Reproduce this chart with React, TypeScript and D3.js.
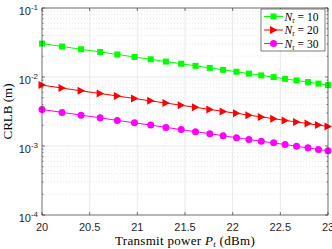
import React, { useEffect, useRef } from 'react';
import * as d3 from 'd3';

// transmit power samples (dBm), 100 mW .. 200 mW in 5 mW steps
const powerDbm = [20, 20.21, 20.41, 20.61, 20.79, 20.97, 21.14, 21.3, 21.46, 21.61, 21.76, 21.9, 22.04, 22.17, 22.3, 22.43, 22.55, 22.67, 22.79, 22.9, 23.0];

const crlbN10 = [0.0305, 0.02766, 0.02521, 0.02306, 0.02118, 0.01952, 0.01805, 0.01674, 0.01556, 0.01451, 0.01356, 0.01269, 0.01191, 0.0112, 0.01055, 0.00996, 0.00941, 0.00891, 0.00845, 0.00802, 0.00763];
const crlbN20 = [0.00763, 0.00692, 0.0063, 0.00577, 0.0053, 0.00488, 0.00451, 0.00419, 0.00389, 0.00363, 0.00339, 0.00317, 0.00298, 0.0028, 0.00264, 0.00249, 0.00235, 0.00223, 0.00211, 0.00201, 0.00191];
const crlbN30 = [0.00339, 0.00307, 0.0028, 0.00256, 0.00235, 0.00217, 0.00201, 0.00186, 0.00173, 0.00161, 0.00151, 0.00141, 0.00132, 0.00124, 0.00117, 0.00111, 0.00105, 0.00099, 0.00094, 0.00089, 0.00085];

const xTicks = [20, 20.5, 21, 21.5, 22, 22.5, 23];
const yExponents = [-4, -3, -2, -1];

const series = [
  { n: '10', values: crlbN10, color: '#00ff00', marker: 'square' },
  { n: '20', values: crlbN20, color: '#ff0000', marker: 'triangle' },
  { n: '30', values: crlbN30, color: '#ff00ff', marker: 'circle' },
];

const W = 332;
const H = 249;
const margin = { top: 8, right: 4, bottom: 34, left: 42 };

function drawMarker(g: any, type: string, x: number, y: number, color: string) {
  if (type === 'square') {
    g.append('rect').attr('x', x - 3).attr('y', y - 3).attr('width', 6).attr('height', 6).attr('fill', color);
  } else if (type === 'triangle') {
    g.append('path').attr('d', `M${x - 3.5},${y - 4}L${x + 4},${y}L${x - 3.5},${y + 4}Z`).attr('fill', color);
  } else {
    g.append('circle').attr('cx', x).attr('cy', y).attr('r', 3.5).attr('fill', color);
  }
}

export default function App() {
  const svgRef = useRef<SVGSVGElement>(null);

  useEffect(() => {
    const svg = d3.select(svgRef.current);
    svg.selectAll('*').remove();

    const iw = W - margin.left - margin.right;
    const ih = H - margin.top - margin.bottom;

    const x = d3.scaleLinear().domain([20, 23]).range([0, iw]);
    const y = d3.scaleLog().domain([1e-4, 1e-1]).range([ih, 0]);

    const g = svg.append('g').attr('transform', `translate(${margin.left},${margin.top})`);

    g.append('rect').attr('width', iw).attr('height', ih).attr('fill', '#fff');

    // minor horizontal grid (dotted)
    const minor: number[] = [];
    yExponents.slice(0, 3).forEach((e) => {
      for (let k = 2; k <= 9; k++) minor.push(k * Math.pow(10, e));
    });
    g.selectAll('line.minor')
      .data(minor)
      .join('line')
      .attr('x1', 0).attr('x2', iw)
      .attr('y1', (d) => y(d)).attr('y2', (d) => y(d))
      .attr('stroke', '#d8d8d8').attr('stroke-width', 0.6).attr('stroke-dasharray', '1,2');

    // major grid
    g.selectAll('line.gx')
      .data(xTicks)
      .join('line')
      .attr('x1', (d) => x(d)).attr('x2', (d) => x(d))
      .attr('y1', 0).attr('y2', ih)
      .attr('stroke', '#e3e3e3').attr('stroke-width', 0.8);
    g.selectAll('line.gy')
      .data(yExponents)
      .join('line')
      .attr('x1', 0).attr('x2', iw)
      .attr('y1', (d) => y(Math.pow(10, d))).attr('y2', (d) => y(Math.pow(10, d)))
      .attr('stroke', '#e3e3e3').attr('stroke-width', 0.8);

    // ticks (inward, both sides)
    const axisColor = '#262626';
    xTicks.forEach((t) => {
      g.append('line').attr('x1', x(t)).attr('x2', x(t)).attr('y1', ih).attr('y2', ih - 3).attr('stroke', axisColor).attr('stroke-width', 0.6);
      g.append('line').attr('x1', x(t)).attr('x2', x(t)).attr('y1', 0).attr('y2', 3).attr('stroke', axisColor).attr('stroke-width', 0.6);
    });
    yExponents.forEach((e) => {
      const yy = y(Math.pow(10, e));
      g.append('line').attr('x1', 0).attr('x2', 3).attr('y1', yy).attr('y2', yy).attr('stroke', axisColor).attr('stroke-width', 0.6);
      g.append('line').attr('x1', iw).attr('x2', iw - 3).attr('y1', yy).attr('y2', yy).attr('stroke', axisColor).attr('stroke-width', 0.6);
    });
    minor.forEach((m) => {
      const yy = y(m);
      g.append('line').attr('x1', 0).attr('x2', 1.6).attr('y1', yy).attr('y2', yy).attr('stroke', axisColor).attr('stroke-width', 0.5);
      g.append('line').attr('x1', iw).attr('x2', iw - 1.6).attr('y1', yy).attr('y2', yy).attr('stroke', axisColor).attr('stroke-width', 0.5);
    });

    // series
    const line = d3.line<number>()
      .x((_, i) => x(powerDbm[i]))
      .y((d) => y(d));
    series.forEach((s) => {
      g.append('path').datum(s.values).attr('d', line).attr('fill', 'none').attr('stroke', s.color).attr('stroke-width', 1);
      const mg = g.append('g');
      s.values.forEach((v, i) => drawMarker(mg, s.marker, x(powerDbm[i]), y(v), s.color));
    });

    // frame
    g.append('rect').attr('width', iw).attr('height', ih).attr('fill', 'none').attr('stroke', axisColor).attr('stroke-width', 0.6);

    // tick labels
    const sans = 'Liberation Sans, Arial, sans-serif';
    xTicks.forEach((t) => {
      g.append('text').attr('x', x(t)).attr('y', ih + 16).attr('text-anchor', 'middle')
        .attr('font-family', sans).attr('font-size', 11).attr('fill', '#262626').text(String(t));
    });
    yExponents.forEach((e) => {
      const tx = g.append('text').attr('x', -4).attr('y', y(Math.pow(10, e)) + 7).attr('text-anchor', 'end')
        .attr('font-family', sans).attr('font-size', 11).attr('fill', '#262626');
      tx.append('tspan').text('10');
      tx.append('tspan').attr('dy', -5).attr('font-size', 8).text(String(e));
    });

    // axis labels
    const serif = 'Liberation Serif, DejaVu Serif, serif';
    const xl = svg.append('text').attr('x', margin.left + iw / 2).attr('y', H - 4).attr('text-anchor', 'middle')
      .attr('font-family', serif).attr('font-size', 13).attr('letter-spacing', 0.3).attr('fill', '#000');
    xl.append('tspan').text('Transmit power ');
    xl.append('tspan').attr('font-style', 'italic').text('P');
    xl.append('tspan').attr('font-size', 9).attr('dy', 2).attr('font-style', 'italic').text('t');
    xl.append('tspan').attr('dy', -2).text(' (dBm)');

    svg.append('text')
      .attr('transform', `translate(12,${margin.top + ih / 2}) rotate(-90)`)
      .attr('text-anchor', 'middle')
      .attr('font-family', serif).attr('font-size', 13).attr('fill', '#000')
      .text('CRLB (m)');

    // legend
    const lx = 261 - margin.left;
    const ly = 1;
    const lg = g.append('g').attr('transform', `translate(${lx},${ly})`);
    lg.append('rect').attr('width', 64).attr('height', 42).attr('fill', '#fff').attr('stroke', axisColor).attr('stroke-width', 0.6);
    series.forEach((s, i) => {
      const yy = 7.5 + i * 13.5;
      lg.append('line').attr('x1', 3).attr('x2', 22).attr('y1', yy).attr('y2', yy).attr('stroke', s.color).attr('stroke-width', 1);
      drawMarker(lg, s.marker, 12.5, yy, s.color);
      const t = lg.append('text').attr('x', 23.5).attr('y', yy + 4).attr('font-family', serif).attr('font-size', 11.5).attr('fill', '#000');
      t.append('tspan').attr('font-style', 'italic').text('N');
      t.append('tspan').attr('font-size', 7.5).attr('dy', 2).text('r');
      t.append('tspan').attr('dy', -2).text(` = ${s.n}`);
    });
  }, []);

  return (
    <svg
      ref={svgRef}
      width={W}
      height={H}
      style={{ position: 'absolute', left: 0, top: 0, display: 'block', background: '#fff' }}
    />
  );
}
